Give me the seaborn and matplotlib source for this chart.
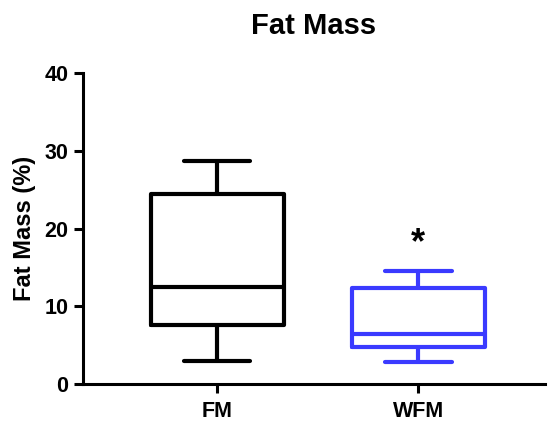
import matplotlib
matplotlib.use("Agg")
import matplotlib.pyplot as plt
import seaborn as sns
import pandas as pd

categories = ["FM", "WFM"]
# five-number summaries (min, Q1, median, Q3, max)
fm_values = [3.0, 7.6, 12.5, 24.4, 28.7]
wfm_values = [2.85, 4.75, 6.4, 12.3, 14.5]
colors = ["#000000", "#3a3aff"]
y_ticks = [0, 10, 20, 30, 40]

df = pd.DataFrame({
    "group": [categories[0]] * len(fm_values) + [categories[1]] * len(wfm_values),
    "value": fm_values + wfm_values,
})

sns.set_style("ticks")
plt.rcParams["font.family"] = ["Liberation Sans", "DejaVu Sans"]
plt.rcParams["font.weight"] = "bold"
plt.rcParams["text.color"] = "black"
plt.rcParams["axes.labelcolor"] = "black"
plt.rcParams["xtick.color"] = "black"
plt.rcParams["ytick.color"] = "black"

fig = plt.figure(figsize=(5.49, 4.22), dpi=100)
ax = fig.add_axes([0.151, 0.09, 0.842, 0.737])

sns.boxplot(data=df, x="group", y="value", hue="group", palette=colors,
            order=categories, hue_order=categories, fill=False, whis=(0, 100),
            width=0.66, linewidth=3, legend=False, ax=ax, showfliers=False)

ax.set_xlim(-0.667, 1.63)
ax.set_ylim(0, 40)
ax.set_yticks(y_ticks)
ax.set_xlabel("")
ax.set_ylabel("Fat Mass (%)", fontsize=17, fontweight="bold", labelpad=6)
ax.set_title("Fat Mass", fontsize=21, fontweight="bold", pad=28)

for s in ["top", "right"]:
    ax.spines[s].set_visible(False)
for s in ["left", "bottom"]:
    ax.spines[s].set_linewidth(2.2)
    ax.spines[s].set_color("black")
ax.tick_params(axis="both", width=2.2, length=6.5, labelsize=15.5, color="black")
ax.tick_params(axis="x", pad=6)
ax.tick_params(axis="y", pad=4)
for lab in ax.get_xticklabels() + ax.get_yticklabels():
    lab.set_fontweight("bold")

ax.text(1, 18.0, "*", ha="center", va="center", fontsize=26, fontweight="bold")

fig.savefig("out.png", dpi=100)
